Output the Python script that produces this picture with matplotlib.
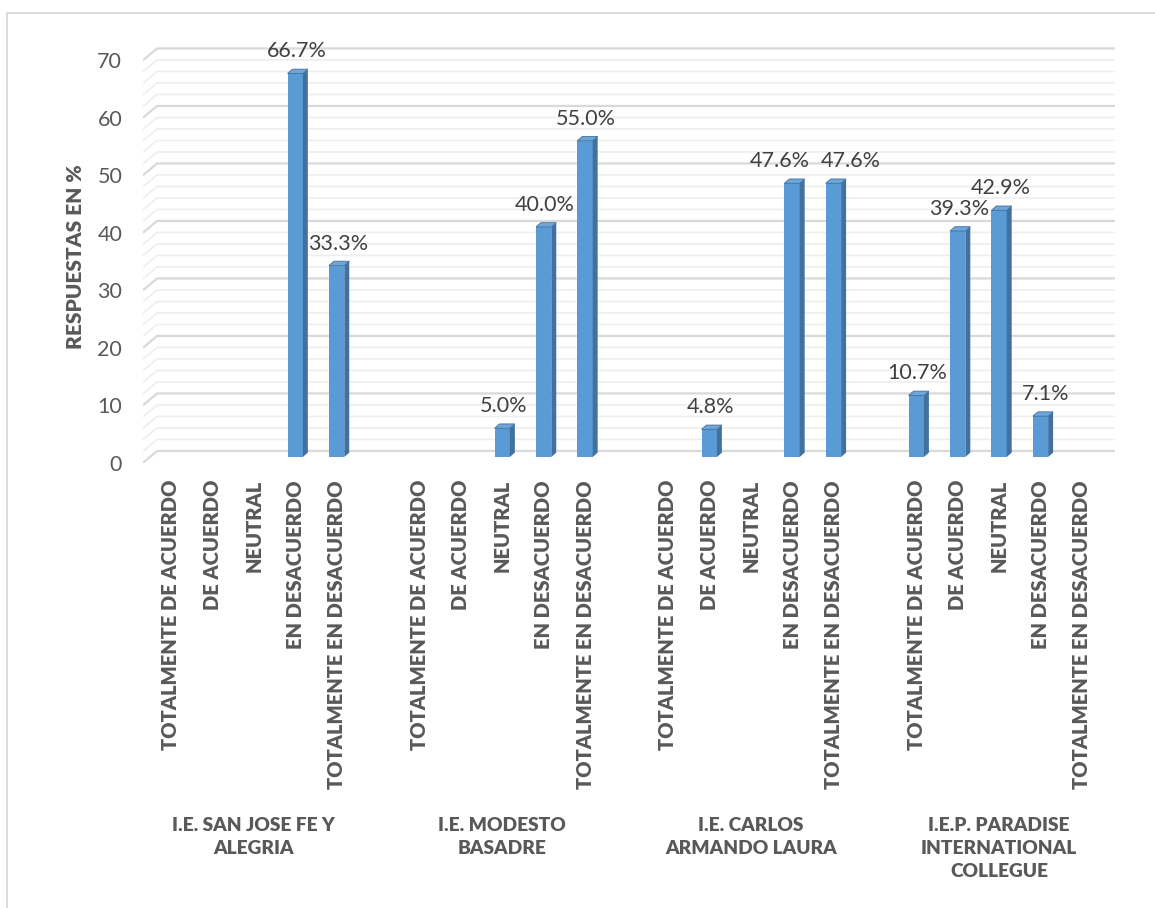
import numpy as np
import matplotlib
matplotlib.use('Agg')
from matplotlib import pyplot as plt
from matplotlib.patches import Polygon, Rectangle

categories = ['TOTALMENTE DE ACUERDO', 'DE ACUERDO', 'NEUTRAL',
              'EN DESACUERDO', 'TOTALMENTE EN DESACUERDO']
schools = ['I.E. SAN JOSE FE Y\nALEGRIA', 'I.E. MODESTO\nBASADRE',
           'I.E. CARLOS\nARMANDO LAURA', 'I.E.P. PARADISE\nINTERNATIONAL\nCOLLEGUE']
san_jose = [0, 0, 0, 66.7, 33.3]
modesto = [0, 0, 5.0, 40.0, 55.0]
carlos = [0, 4.8, 0, 47.6, 47.6]
paradise = [10.7, 39.3, 42.9, 7.1, 0]
series = [san_jose, modesto, carlos, paradise]

# label nudges in pixels (excel moved a few labels sideways)
label_dx = {(2, 3): -14, (2, 4): 16, (3, 3): 4}

FRONT = '#5B9BD5'
SIDE = '#41719C'
TOP = '#6FA6DA'
TXT = '#595959'
FONT = 'Lato'

W, H = 1155, 908
fig = plt.figure(figsize=(W / 100, H / 100), dpi=100)
# axes box in pixels: x 143..1115, y 40..463
ax = fig.add_axes([143 / W, (H - 463.3) / H, (1115 - 143) / W, (463.3 - 40) / H])
ax.set_xlim(-0.676, 22.8)
ax.set_ylim(-1.1, 72.52)
for s in ax.spines.values():
    s.set_visible(False)

# 3d-ish back wall gridlines
xl = -0.676
dx_wall, dy_wall = 0.34, 2.05
for v in np.arange(0, 71, 2):
    major = v % 10 == 0
    col = '#D9D9D9' if major else '#EEEEEE'
    lw = 1.6 if major else 1.2
    ax.plot([xl, xl + dx_wall, 22.8], [v - 1, v - 1 + dy_wall, v - 1 + dy_wall],
            color=col, lw=lw, zorder=1, solid_capstyle='butt')

# bars
w = 0.37
ddx, ddy = 0.12, 0.75
xs = []
for g, vals in enumerate(series):
    for c, h in enumerate(vals):
        x = g * 6 + c
        xs.append(x)
        if h == 0:
            continue
        ax.bar(x, h, width=w, color=FRONT, zorder=3, linewidth=0)
        r = x + w / 2
        ax.add_patch(Polygon([(r, 0), (r + ddx, ddy), (r + ddx, h + ddy), (r, h)],
                             closed=True, fc=SIDE, ec='none', zorder=3))
        ax.add_patch(Polygon([(x - w / 2, h), (r, h), (r + ddx, h + ddy), (x - w / 2 + ddx, h + ddy)],
                             closed=True, fc=TOP, ec=SIDE, lw=0.6, zorder=4))
        ax.annotate(f'{h:.1f}%', (x + 0.03, h), xytext=(label_dx.get((g, c), 0), 22),
                    textcoords='offset pixels', ha='center', va='center',
                    fontsize=15.5, color='#404040', family=FONT, zorder=5)

# axis labels
ticks = np.arange(0, 71, 10)
ax.set_yticks(ticks - 1)
ax.set_yticklabels([str(t) for t in ticks], fontsize=15.5, color=TXT, family=FONT)
ax.tick_params(axis='y', length=0, pad=15)
ax.set_xticks(xs)
ax.set_xticklabels(categories * len(schools), rotation=90, fontsize=14.5,
                   fontweight='heavy', color=TXT, family=FONT)
ax.tick_params(axis='x', length=0, pad=12)

for g, name in enumerate(schools):
    ax.text(g * 6 + 2, -0.835, name, transform=ax.get_xaxis_transform(),
            ha='center', va='top', fontsize=13.8, fontweight='heavy', color=TXT,
            family=FONT, linespacing=1.42)

fig.text(75 / W, 1 - 257 / H, 'RESPUESTAS EN %', rotation=90, ha='center', va='center',
         fontsize=15, fontweight='heavy', color=TXT, family=FONT)

# chart border (only top/left show in the crop)
fig.patches.append(Rectangle((7 / W, -0.1), 1.2, 1 - 13 / H + 0.1, transform=fig.transFigure,
                             fill=False, ec='#D9D9D9', lw=1.3))

fig.savefig('out.png', dpi=100)
